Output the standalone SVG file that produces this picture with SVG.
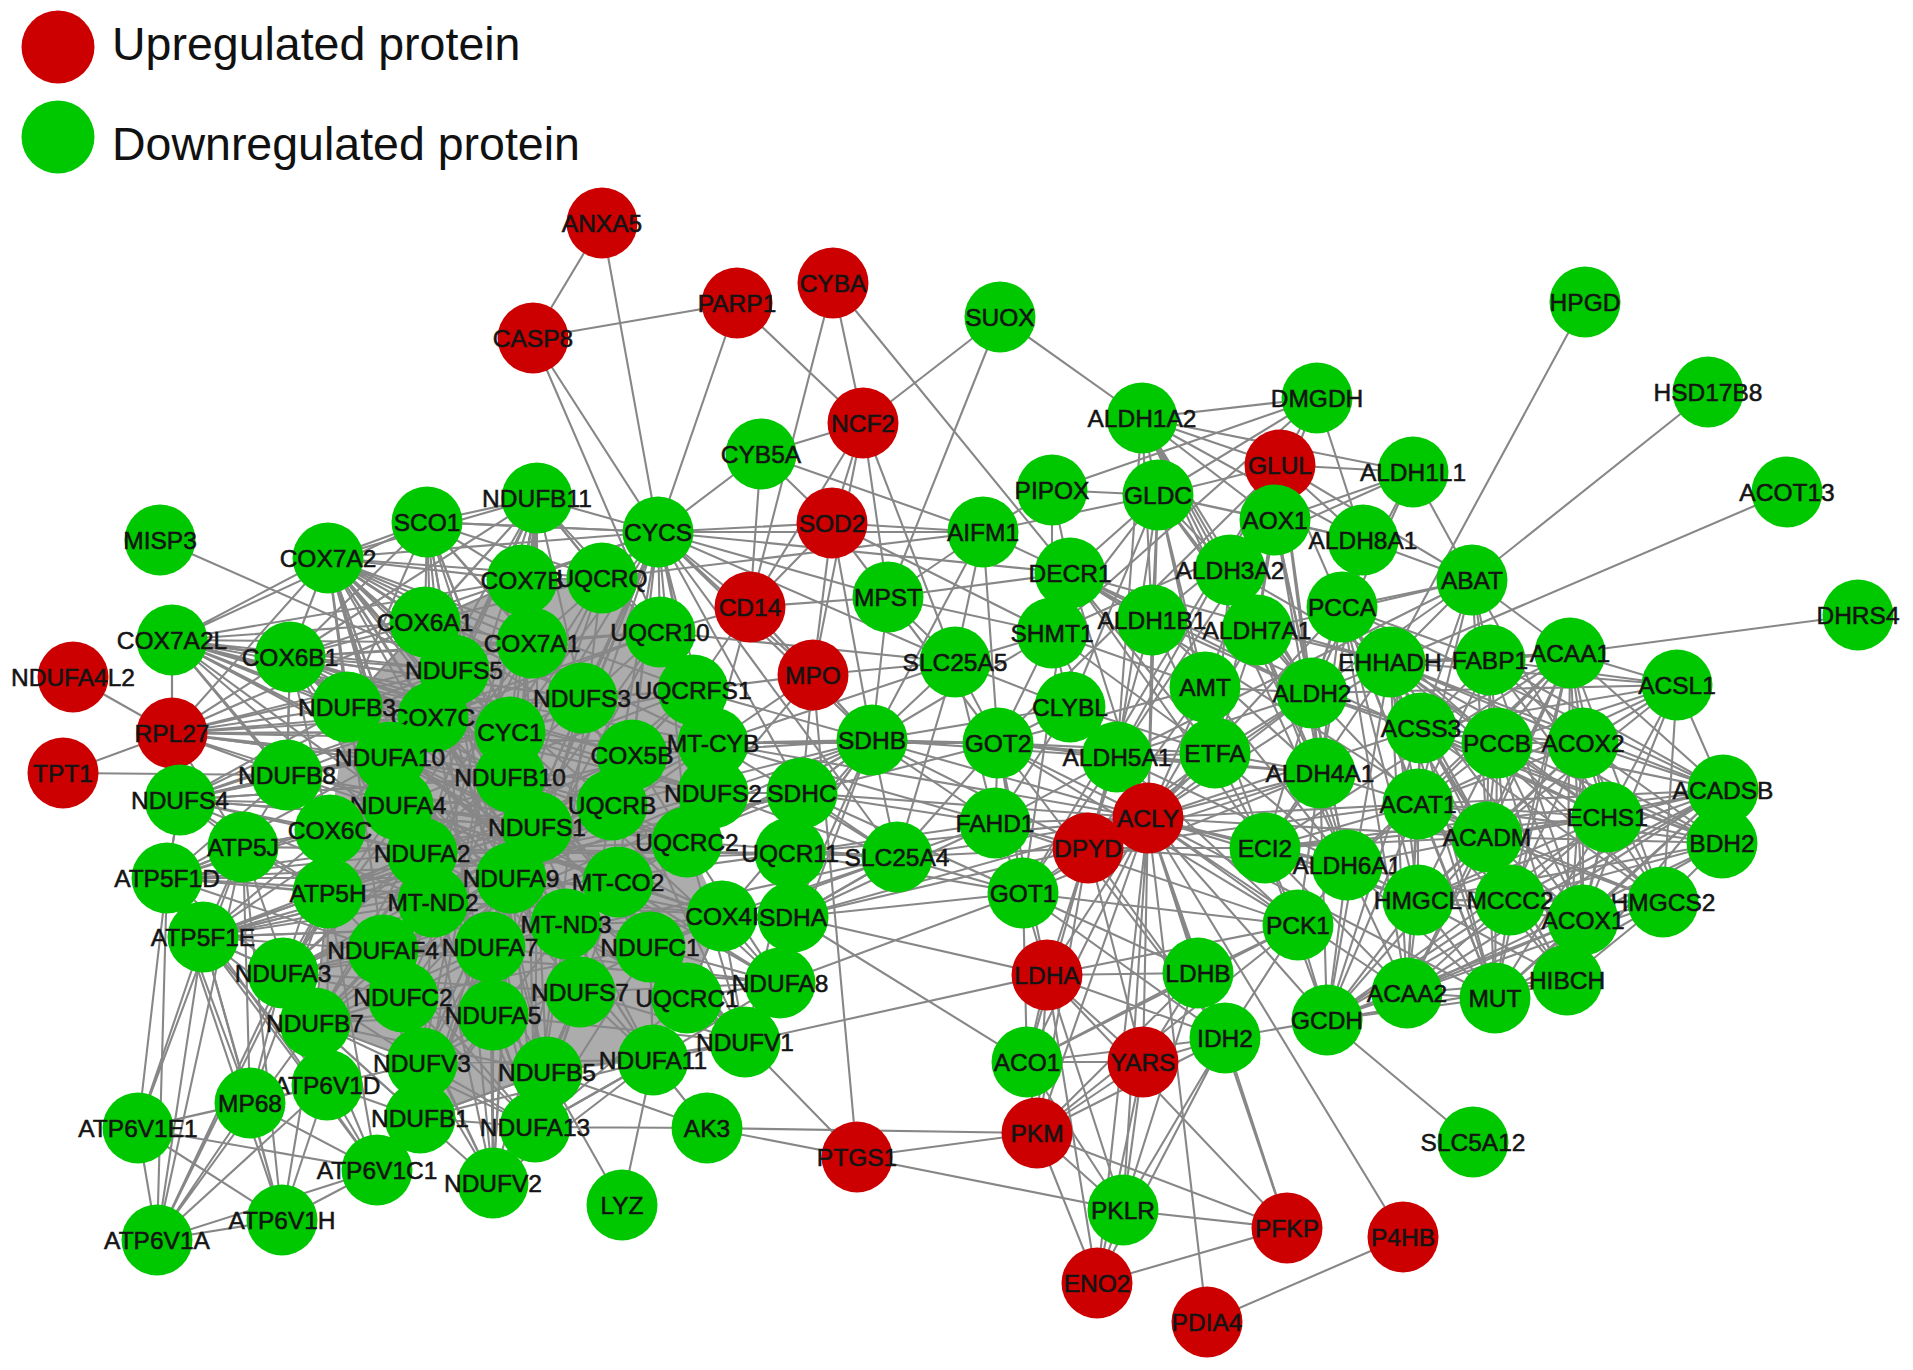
<svg xmlns="http://www.w3.org/2000/svg" width="1913" height="1370" viewBox="0 0 1913 1370">
<style>
.e{fill:none;stroke:#878787;stroke-width:2.1;stroke-linejoin:round}
.mesh{fill:#8c8c8c;fill-opacity:0.72;stroke:none}
.up{fill:#cc0000}
.dn{fill:#00c800}
text{font-family:"Liberation Sans",Arial,sans-serif;font-size:24.5px;fill:#141414;stroke:#141414;stroke-width:0.55;text-anchor:middle;dominant-baseline:central}
text.lg{font-size:46.5px;text-anchor:start;dominant-baseline:auto;fill:#111;stroke:none}
</style>
<rect width="1913" height="1370" fill="#fff"/>
<g id="legend">
<circle class="up" cx="58" cy="47" r="36.5"/>
<text class="lg" x="112" y="60">Upregulated protein</text>
<circle class="dn" cx="58" cy="137" r="36.5"/>
<text class="lg" x="112" y="160">Downregulated protein</text>
</g>
<g id="connectors">
<polygon class="mesh" points="347,707 425,622 522,580 602,578 660,632 693,690 713,743 713,793 687,842 722,916 687,998 653,1060 547,1072 420,1118 422,1063 315,1023 328,893 330,830"/>
<path class="e" d="M328 558L535 1127 427 522 493 1183 537 498 420 1118 658 532 422 1063 522 580 403 997 602 578 315 1023 532 643 283 973 660 632 180 800 693 690 172 733 713 743 172 640 713 793 290 657 687 998 425 622 580 992 454 670 547 1072 347 707 653 1060 433 717 745 1042 582 698 493 1015 510 732 780 983 390 757 722 916 287 775 687 842 510 777 618 882 398 805 511 878 612 805 433 902 632 755 328 893 537 827 422 853 330 830 243 847 790 853 167 878 793 917 203 937 802 793 383 950 872 740 490 947 897 857 650 947"/>
<path class="e" d="M427 522L537 498 658 532 602 578 522 580 532 643 425 622 328 558 290 657 347 707 454 670 433 717 532 643 660 632 693 690 582 698 510 732 510 777 612 805 632 755 713 743 713 793 802 793 872 740 790 853 897 857 793 917 780 983 745 1042 687 998 722 916 650 947 653 1060 580 992 535 1127 493 1183 547 1072 493 1015 422 1063 420 1118 315 1023 283 973 203 937 167 878 180 800 172 733 172 640 290 657 287 775 390 757 398 805 422 853 433 902 328 893 243 847 330 830 287 775 180 800"/>
<path class="e" d="M328 558L425 622 454 670 433 717 390 757 330 830 328 893 383 950 283 973 315 1023 403 997 422 1063 493 1015 490 947 433 902 422 853 398 805 347 707 290 657 287 775 243 847 167 878 203 937 328 893 330 830 398 805 390 757 433 717 510 732 510 777 511 878 490 947 566 924 580 992 547 1072 535 1127 653 1060 650 947 618 882 612 805 632 755 582 698 532 643 522 580 537 498 602 578 660 632 713 743 693 690 632 755 687 842 618 882 722 916 687 998 745 1042 780 983 790 853 802 793 713 793 687 842 612 805 537 827 511 878 566 924 618 882 650 947 687 998"/>
<path class="e" d="M427 522L510 732 493 1015 433 717 580 992 347 707 687 998 290 657 745 1042 328 558 653 1060 425 622 547 1072 522 580 535 1127 602 578 420 1118 658 532 422 1063 660 632 403 997 693 690 315 1023 713 743 283 973 713 793 203 937 802 793 328 893 537 827 398 805 687 842 422 853 790 853 433 902 793 917 383 950 780 983 490 947"/>
<path class="e" d="M172 640L510 732 172 733 510 777 180 800 537 827 167 878 511 878 203 937 566 924 283 973 580 992 315 1023 547 1072 420 1118 653 1060 422 1063 650 947 403 997 618 882 383 950 612 805 433 902 632 755 328 893 713 743 330 830 693 690 287 775 660 632 290 657 658 532 328 558 602 578 425 622 582 698 347 707 713 793 390 757 687 842 398 805 722 916 422 853 687 998"/>
<path class="e" d="M328 558L433 717 328 558 510 732 328 558 582 698 328 558 510 777 328 558 537 827 328 558 398 805 328 558 422 853 328 558 511 878 328 558 612 805 328 558 632 755 328 558 347 707 328 558 390 757 328 558 454 670 328 558 532 643 328 558 522 580 328 558 693 690 328 558 713 743 328 558 433 902 328 558 383 950 328 558 493 1015"/>
<path class="e" d="M172 640L328 558 172 640 425 622 172 640 454 670 172 640 532 643 172 640 433 717 172 640 347 707 172 640 290 657 172 640 390 757 172 640 510 732 172 640 510 777 172 640 398 805 172 640 422 853 172 640 287 775 172 640 172 733 172 640 330 830 172 640 537 827 172 640 632 755 172 640 582 698 172 640 522 580 172 640 427 522"/>
<path class="e" d="M172 733L290 657 172 733 347 707 172 733 433 717 172 733 454 670 172 733 425 622 172 733 328 558 172 733 390 757 172 733 287 775 172 733 398 805 172 733 180 800 172 733 243 847 172 733 510 732 172 733 532 643 172 733 510 777 172 733 522 580"/>
<path class="e" d="M290 657L425 622 290 657 454 670 290 657 433 717 290 657 390 757 290 657 510 732 290 657 510 777 290 657 398 805 290 657 537 827 290 657 511 878 290 657 433 902 290 657 532 643 290 657 582 698 290 657 632 755 290 657 330 830"/>
<path class="e" d="M427 522L425 622 427 522 454 670 427 522 433 717 427 522 522 580 427 522 532 643 427 522 510 732 427 522 582 698 427 522 328 558 427 522 602 578 427 522 658 532 427 522 347 707 427 522 290 657 427 522 510 777"/>
<path class="e" d="M537 498L425 622 537 498 522 580 537 498 532 643 537 498 510 732 537 498 454 670 537 498 433 717 537 498 510 777 537 498 390 757 537 498 347 707 537 498 398 805 537 498 537 827 537 498 602 578 537 498 582 698 537 498 511 878 537 498 660 632 537 498 328 558 537 498 290 657 537 498 422 853"/>
<path class="e" d="M658 532L602 578 658 532 660 632 658 532 693 690 658 532 582 698 658 532 713 743 658 532 632 755 658 532 532 643 658 532 510 732 658 532 612 805 658 532 713 793 658 532 687 842 658 532 618 882 658 532 522 580 658 532 510 777 658 532 537 827 658 532 872 740 658 532 802 793 658 532 897 857 658 532 493 1015 658 532 580 992"/>
<path class="e" d="M180 800L287 775 180 800 330 830 180 800 243 847 180 800 398 805 180 800 390 757 180 800 347 707 180 800 433 717 180 800 422 853 180 800 454 670 180 800 167 878 180 800 328 893 180 800 433 902 180 800 537 827 180 800 510 777 180 800 510 732"/>
<path class="e" d="M167 878L243 847 167 878 328 893 167 878 330 830 167 878 287 775 167 878 203 937 167 878 283 973 167 878 383 950 167 878 433 902 167 878 422 853 167 878 398 805 167 878 390 757"/>
<path class="e" d="M203 937L243 847 203 937 328 893 203 937 330 830 203 937 283 973 203 937 383 950 203 937 315 1023 203 937 433 902 203 937 422 853 203 937 398 805"/>
<path class="e" d="M493 1183L535 1127 493 1183 547 1072 493 1183 493 1015 493 1183 422 1063 493 1183 420 1118 493 1183 403 997 493 1183 383 950 493 1183 490 947 493 1183 566 924 493 1183 580 992 493 1183 653 1060 493 1183 511 878 493 1183 433 902"/>
<path class="e" d="M535 1127L547 1072 535 1127 493 1015 535 1127 422 1063 535 1127 420 1118 535 1127 403 997 535 1127 490 947 535 1127 566 924 535 1127 580 992 535 1127 653 1060 535 1127 687 998 535 1127 650 947 535 1127 618 882 535 1127 511 878 535 1127 433 902 535 1127 537 827 535 1127 383 950 535 1127 315 1023"/>
<path class="e" d="M745 1042L653 1060 745 1042 687 998 745 1042 650 947 745 1042 580 992 745 1042 722 916 745 1042 793 917 745 1042 780 983 745 1042 618 882 745 1042 566 924 745 1042 687 842 745 1042 790 853 745 1042 547 1072 745 1042 493 1015"/>
<path class="e" d="M872 740L802 793 872 740 790 853 872 740 897 857 872 740 793 917 872 740 713 743 872 740 713 793 872 740 693 690 872 740 687 842 872 740 722 916 872 740 780 983 872 740 632 755 872 740 612 805"/>
<path class="e" d="M780 983L722 916 780 983 793 917 780 983 687 998 780 983 650 947 780 983 790 853 780 983 687 842 780 983 618 882 780 983 653 1060 780 983 580 992"/>
<path class="e" d="M897 857L802 793 897 857 790 853 897 857 793 917 897 857 722 916 897 857 713 793 897 857 713 743 897 857 687 842"/>
<path class="e" d="M283 973L328 893 283 973 383 950 283 973 433 902 283 973 403 997 283 973 422 853 283 973 330 830 283 973 398 805 283 973 315 1023 283 973 422 1063 283 973 490 947"/>
<path class="e" d="M315 1023L383 950 315 1023 403 997 315 1023 422 1063 315 1023 420 1118 315 1023 433 902 315 1023 490 947 315 1023 328 893 315 1023 422 853 315 1023 493 1015"/>
<path class="e" d="M420 1118L422 1063 420 1118 403 997 420 1118 493 1015 420 1118 547 1072 420 1118 383 950 420 1118 490 947 420 1118 433 902 420 1118 511 878 420 1118 566 924"/>
<path class="e" d="M157 1240L203 937 157 1240 167 878 157 1240 250 1103 157 1240 327 1085 157 1240 282 1220 157 1240 377 1170 157 1240 138 1128 157 1240 243 847 157 1240 283 973 157 1240 315 1023 157 1240 328 893"/>
<path class="e" d="M138 1128L167 878 138 1128 203 937 138 1128 250 1103 138 1128 377 1170 138 1128 282 1220 138 1128 327 1085 138 1128 243 847"/>
<path class="e" d="M282 1220L250 1103 282 1220 327 1085 282 1220 377 1170 282 1220 203 937 282 1220 167 878 282 1220 315 1023 282 1220 243 847"/>
<path class="e" d="M250 1103L377 1170 250 1103 327 1085 250 1103 203 937 250 1103 243 847 250 1103 328 893 250 1103 283 973 250 1103 167 878"/>
<path class="e" d="M377 1170L327 1085 377 1170 203 937 377 1170 167 878 377 1170 420 1118 377 1170 422 1063 377 1170 328 893 377 1170 315 1023"/>
<path class="e" d="M327 1085L203 937 327 1085 328 893 327 1085 315 1023 327 1085 422 1063 327 1085 420 1118 327 1085 283 973 327 1085 243 847"/>
<path class="e" d="M160 540L454 670 M73 677L172 733 M63 773L172 733 M63 773L287 775 M427 522L658 532"/>
<path class="e" d="M602 223L533 338 737 303 M602 223L658 532 M533 338L658 532 M533 338L660 632 M737 303L658 532 M737 303L863 423 M833 283L863 423 M833 283L750 607 M833 283L1070 573"/>
<path class="e" d="M863 423L761 454 863 423 1000 317 863 423 832 523 863 423 750 607 863 423 813 675 863 423 888 597 863 423 955 662 M1000 317L1142 418 1000 317 888 597"/>
<path class="e" d="M761 454L658 532 761 454 832 523 761 454 750 607 761 454 983 532"/>
<path class="e" d="M658 532L983 532 658 532 832 523 658 532 888 597 658 532 955 662 658 532 750 607 658 532 813 675 658 532 1070 573"/>
<path class="e" d="M832 523L750 607 832 523 813 675 832 523 888 597 832 523 983 532 832 523 872 740 832 523 1052 633"/>
<path class="e" d="M750 607L813 675 750 607 888 597 750 607 660 632 750 607 713 743 750 607 872 740 750 607 693 690"/>
<path class="e" d="M813 675L872 740 813 675 955 662 813 675 802 793 813 675 713 793 813 675 693 690 813 675 713 743"/>
<path class="e" d="M888 597L955 662 888 597 1070 573 888 597 1052 633 888 597 998 743 888 597 872 740 888 597 983 532"/>
<path class="e" d="M983 532L955 662 983 532 1158 495 983 532 872 740 983 532 602 578 983 532 1052 490"/>
<path class="e" d="M955 662L897 857 955 662 872 740 955 662 995 823 955 662 1052 633 955 662 1070 707 955 662 660 632 955 662 713 743"/>
<path class="e" d="M872 740L1070 707 872 740 1052 633 872 740 1117 757 M793 917L1047 975 M745 1042L1047 975 M793 917L1027 1062 M780 983L1023 893"/>
<path class="e" d="M857 1157L1037 1133 M857 1157L1123 1210 M857 1157L707 1128 M857 1157L745 1042 M857 1157L813 675 M707 1128L1037 1133 M707 1128L653 1060 M707 1128L535 1127 M707 1128L547 1072 M622 1205L653 1060 M622 1205L547 1072"/>
<path class="e" d="M1585 302L1390 662 M1787 492L1390 662"/>
<path class="e" d="M1148 818L998 743 1148 818 995 823 1148 818 1023 893 1148 818 1088 848 1148 818 1047 975 1148 818 1198 973 1148 818 1225 1038 1148 818 1143 1062 1148 818 1037 1133 1148 818 1123 1210 1148 818 1027 1062 1148 818 1265 848 1148 818 1312 693 1148 818 1205 687 1148 818 1215 753 1148 818 1117 757 1148 818 1152 620 1148 818 1070 707 1148 818 1052 633 1148 818 1070 573 1148 818 1418 804 1148 818 1421 728 1148 818 1342 607 1148 818 1327 1020 1148 818 1407 993 1148 818 1418 900 1148 818 1320 773 1148 818 1347 865 1148 818 1298 925 1148 818 872 740 1148 818 793 917 1148 818 802 793 1148 818 897 857 1148 818 790 853 1148 818 713 743 1148 818 1257 630 1148 818 1158 495 1148 818 1390 662 1148 818 1487 837 1148 818 1495 998 1148 818 1097 1283 1148 818 1287 1228"/>
<path class="e" d="M1088 848L1117 757 1088 848 1347 865 1088 848 1023 893 1088 848 995 823 1088 848 1047 975 1088 848 1027 1062 1088 848 1037 1133 1088 848 1312 693 1088 848 1320 773 1088 848 1215 753 1088 848 1205 687 1088 848 1418 804 1088 848 1265 848 1088 848 1152 620 1088 848 1225 1038 1088 848 1143 1062 1088 848 872 740 1088 848 897 857 1088 848 793 917"/>
<path class="e" d="M1312 693L1158 495 1312 693 1142 418 1312 693 1230 570 1312 693 1257 630 1312 693 1152 620 1312 693 1275 520 1312 693 1363 540 1312 693 1413 472 1312 693 1320 773 1312 693 1347 865 1312 693 1117 757 1312 693 1390 662 1312 693 1418 804 1312 693 1342 607 1312 693 1472 580 1312 693 1421 728 1312 693 1070 573 1312 693 1280 465 1312 693 1265 848 1312 693 1215 753 1312 693 1205 687"/>
<path class="e" d="M1390 662L1570 653 1390 662 1677 685 1390 662 1583 743 1390 662 1607 817 1390 662 1487 837 1390 662 1407 993 1390 662 1418 804 1390 662 1418 900 1390 662 1510 900 1390 662 1497 743 1390 662 1490 660 1390 662 1583 920 1390 662 1567 980 1390 662 1495 998 1390 662 1723 790 1390 662 1722 843 1390 662 1663 902 1390 662 1230 570 1390 662 1070 573 1390 662 1265 848 1390 662 1327 1020 1390 662 1257 630 1390 662 1472 580"/>
<path class="e" d="M1723 790L1570 653 1723 790 1583 743 1723 790 1607 817 1723 790 1497 743 1723 790 1487 837 1723 790 1490 660 1723 790 1418 804 1723 790 1421 728 1723 790 1418 900 1723 790 1510 900 1723 790 1583 920 1723 790 1567 980 1723 790 1495 998 1723 790 1407 993 1723 790 1327 1020 1723 790 1265 848 1723 790 1347 865 1723 790 1342 607 1723 790 1677 685"/>
<path class="e" d="M1722 843L1607 817 1722 843 1487 837 1722 843 1663 902 1722 843 1583 920 1722 843 1418 804 1722 843 1510 900 1722 843 1418 900 1722 843 1421 728 1722 843 1407 993 1722 843 1312 693 1722 843 1497 743 1722 843 1583 743"/>
<path class="e" d="M1677 685L1570 653 1677 685 1490 660 1677 685 1583 743 1677 685 1607 817 1677 685 1497 743 1677 685 1421 728 1677 685 1487 837 1677 685 1583 920 1677 685 1312 693 1677 685 1663 902 1677 685 1418 804"/>
<path class="e" d="M1570 653L1490 660 1570 653 1583 743 1570 653 1497 743 1570 653 1607 817 1570 653 1487 837 1570 653 1418 804 1570 653 1510 900 1570 653 1663 902 1570 653 1583 920 1570 653 1567 980 1570 653 1495 998 1570 653 1407 993 1570 653 1472 580 1570 653 1858 615 1570 653 1421 728 1570 653 1265 848 1570 653 1347 865"/>
<path class="e" d="M1418 804L1342 607 1418 804 1497 743 1418 804 1421 728 1418 804 1487 837 1418 804 1418 900 1418 804 1510 900 1418 804 1583 920 1418 804 1407 993 1418 804 1495 998 1418 804 1567 980 1418 804 1327 1020 1418 804 1607 817 1418 804 1583 743 1418 804 1663 902 1418 804 1347 865 1418 804 1265 848 1418 804 1320 773 1418 804 1472 580 1418 804 1490 660"/>
<path class="e" d="M1327 1020L1407 993 1327 1020 1495 998 1327 1020 1567 980 1327 1020 1510 900 1327 1020 1487 837 1327 1020 1418 900 1327 1020 1607 817 1327 1020 1583 920 1327 1020 1347 865 1327 1020 1265 848 1327 1020 1298 925 1327 1020 1473 1142 1327 1020 1225 1038 1327 1020 1320 773 1327 1020 1421 728"/>
<path class="e" d="M1342 607L1497 743 1342 607 1510 900 1342 607 1363 540 1342 607 1413 472 1342 607 1472 580 1342 607 1421 728 1342 607 1407 993 1342 607 1495 998 1342 607 1418 900 1342 607 1487 837 1342 607 1490 660"/>
<path class="e" d="M1472 580L1413 472 1472 580 1708 392 1472 580 1363 540 1472 580 1280 465 1472 580 1421 728 1472 580 1490 660 1472 580 1497 743 1472 580 1607 817 1472 580 1487 837 1472 580 1117 757 1472 580 1257 630"/>
<path class="e" d="M1158 495L1052 490 1158 495 1142 418 1158 495 1275 520 1158 495 1205 687 1158 495 1052 633 1158 495 1070 573 1158 495 1152 620 1158 495 1257 630 1158 495 1230 570 1158 495 1280 465 1158 495 1363 540 1158 495 1215 753 1158 495 1070 707 1158 495 1117 757 1158 495 1317 398"/>
<path class="e" d="M1142 418L1280 465 1142 418 1317 398 1142 418 1275 520 1142 418 1230 570 1142 418 1257 630 1142 418 1363 540 1142 418 1152 620 1142 418 1413 472 1142 418 1117 757 1142 418 1320 773 1142 418 1347 865"/>
<path class="e" d="M1275 520L1230 570 1275 520 1257 630 1275 520 1152 620 1275 520 1363 540 1275 520 1413 472 1275 520 1280 465 1275 520 1320 773 1275 520 1347 865 1275 520 1117 757"/>
<path class="e" d="M1317 398L1280 465 1317 398 1052 490 1317 398 1052 633 1317 398 1205 687 1317 398 1363 540"/>
<path class="e" d="M1280 465L1413 472 1280 465 1230 570 1280 465 1363 540 1280 465 1257 630 1280 465 1320 773 1280 465 1215 753 1280 465 1117 757 1280 465 1023 893 1280 465 998 743 1280 465 1342 607"/>
<path class="e" d="M1052 633L1205 687 1052 633 1413 472 1052 633 1070 707 1052 633 1052 490 1052 633 1070 573 1052 633 998 743 1052 633 1215 753"/>
<path class="e" d="M1070 573L1265 848 1070 573 983 532 1070 573 1052 490 1070 573 1215 753 1070 573 1152 620 1070 573 1487 837 1070 573 1023 893 1070 573 1607 817"/>
<path class="e" d="M1265 848L1215 753 1265 848 1205 687 1265 848 1320 773 1265 848 1347 865 1265 848 1298 925 1265 848 1607 817 1265 848 1487 837 1265 848 1418 900 1265 848 1407 993 1265 848 1510 900"/>
<path class="e" d="M1510 900L1497 743 1510 900 1418 900 1510 900 1487 837 1510 900 1583 920 1510 900 1567 980 1510 900 1495 998 1510 900 1407 993 1510 900 1607 817 1510 900 1583 743 1510 900 1663 902"/>
<path class="e" d="M1663 902L1583 920 1663 902 1418 900 1663 902 1487 837 1663 902 1607 817 1663 902 1407 993 1663 902 1495 998 1663 902 1567 980 1663 902 1583 743 1663 902 1497 743 1663 902 1421 728"/>
<path class="e" d="M1583 920L1607 817 1583 920 1583 743 1583 920 1487 837 1583 920 1497 743 1583 920 1567 980 1583 920 1495 998 1583 920 1407 993 1583 920 1418 900 1583 920 1490 660"/>
<path class="e" d="M1497 743L1583 743 1497 743 1490 660 1497 743 1487 837 1497 743 1607 817 1497 743 1567 980 1497 743 1495 998 1497 743 1421 728 1497 743 1418 900"/>
<path class="e" d="M1583 743L1607 817 1583 743 1487 837 1583 743 1490 660 1583 743 1567 980 1583 743 1421 728 1583 743 1418 900"/>
<path class="e" d="M1320 773L1117 757 1320 773 1347 865 1320 773 1257 630 1320 773 1152 620 1320 773 1230 570 1320 773 1363 540 1320 773 1215 753 1320 773 1298 925 1320 773 1023 893 1320 773 998 743 1320 773 1342 607"/>
<path class="e" d="M1347 865L1418 900 1347 865 1407 993 1347 865 1215 753 1347 865 1205 687 1347 865 1298 925 1347 865 1117 757 1347 865 1257 630 1347 865 1495 998"/>
<path class="e" d="M1215 753L1205 687 1215 753 1117 757 1215 753 1152 620 1215 753 1257 630 1215 753 1230 570 1215 753 1070 707 1215 753 998 743"/>
<path class="e" d="M1298 925L1023 893 1298 925 998 743 1298 925 1047 975 1298 925 1198 973 1298 925 1225 1038 1298 925 1027 1062 1298 925 1037 1133 1298 925 995 823 1298 925 1117 757"/>
<path class="e" d="M998 743L1023 893 998 743 995 823 998 743 1070 707 998 743 955 662 998 743 983 532 998 743 897 857 998 743 1117 757 998 743 1205 687 998 743 713 743 998 743 802 793 998 743 1047 975 998 743 1225 1038 998 743 872 740"/>
<path class="e" d="M1023 893L995 823 1023 893 1047 975 1023 893 1198 973 1023 893 1225 1038 1023 893 1027 1062 1023 893 1117 757 1023 893 897 857 1023 893 790 853 1023 893 793 917 1023 893 802 793"/>
<path class="e" d="M995 823L897 857 995 823 1117 757 995 823 1070 707 995 823 790 853 995 823 713 743 995 823 793 917 995 823 872 740 995 823 802 793"/>
<path class="e" d="M1418 900L1487 837 1418 900 1407 993 1418 900 1495 998 1418 900 1567 980 1418 900 1607 817 M1487 837L1607 817 1487 837 1567 980 1487 837 1495 998 1487 837 1407 993 1487 837 1490 660 1487 837 1421 728 M1421 728L1490 660 1421 728 1607 817 1421 728 1407 993 1421 728 1495 998"/>
<path class="e" d="M1607 817L1567 980 1607 817 1495 998 1607 817 1490 660 M1495 998L1567 980 M1407 993L1495 998 1407 993 1567 980"/>
<path class="e" d="M1047 975L1198 973 1047 975 1027 1062 1047 975 1037 1133 1047 975 1143 1062 1047 975 1123 1210 1047 975 1225 1038 1047 975 1097 1283 1047 975 1287 1228 M1198 973L1225 1038 1198 973 1143 1062 1198 973 1123 1210 1198 973 1027 1062 1198 973 1037 1133"/>
<path class="e" d="M1027 1062L1143 1062 1027 1062 1225 1038 1027 1062 1037 1133 1027 1062 1123 1210 M1143 1062L1037 1133 1143 1062 1123 1210 1143 1062 1225 1038 1143 1062 1097 1283 M1225 1038L1123 1210 1225 1038 1287 1228 1225 1038 1037 1133 1225 1038 1097 1283"/>
<path class="e" d="M1037 1133L1123 1210 1037 1133 1287 1228 1037 1133 1097 1283 M1123 1210L1287 1228 1123 1210 1097 1283 M1287 1228L1097 1283 M1207 1322L1403 1237 1148 818 1207 1322"/>
</g>
<g id="n-MISP3"><circle class="dn" cx="160" cy="540" r="35.5"/><text x="160" y="540">MISP3</text></g>
<g id="n-SCO1"><circle class="dn" cx="427" cy="522" r="35.5"/><text x="427" y="522">SCO1</text></g>
<g id="n-NDUFB11"><circle class="dn" cx="537" cy="498" r="35.5"/><text x="537" y="498">NDUFB11</text></g>
<g id="n-COX7A2"><circle class="dn" cx="328" cy="558" r="35.5"/><text x="328" y="558">COX7A2</text></g>
<g id="n-COX7A2L"><circle class="dn" cx="172" cy="640" r="35.5"/><text x="172" y="640">COX7A2L</text></g>
<g id="n-COX6A1"><circle class="dn" cx="425" cy="622" r="35.5"/><text x="425" y="622">COX6A1</text></g>
<g id="n-COX7B"><circle class="dn" cx="522" cy="580" r="35.5"/><text x="522" y="580">COX7B</text></g>
<g id="n-UQCRQ"><circle class="dn" cx="602" cy="578" r="35.5"/><text x="602" y="578">UQCRQ</text></g>
<g id="n-CYCS"><circle class="dn" cx="658" cy="532" r="35.5"/><text x="658" y="532">CYCS</text></g>
<g id="n-NDUFA4L2"><circle class="up" cx="73" cy="677" r="35.5"/><text x="73" y="677">NDUFA4L2</text></g>
<g id="n-COX6B1"><circle class="dn" cx="290" cy="657" r="35.5"/><text x="290" y="657">COX6B1</text></g>
<g id="n-NDUFS5"><circle class="dn" cx="454" cy="670" r="35.5"/><text x="454" y="670">NDUFS5</text></g>
<g id="n-COX7A1"><circle class="dn" cx="532" cy="643" r="35.5"/><text x="532" y="643">COX7A1</text></g>
<g id="n-UQCR10"><circle class="dn" cx="660" cy="632" r="35.5"/><text x="660" y="632">UQCR10</text></g>
<g id="n-RPL27"><circle class="up" cx="172" cy="733" r="35.5"/><text x="172" y="733">RPL27</text></g>
<g id="n-NDUFB3"><circle class="dn" cx="347" cy="707" r="35.5"/><text x="347" y="707">NDUFB3</text></g>
<g id="n-COX7C"><circle class="dn" cx="433" cy="717" r="35.5"/><text x="433" y="717">COX7C</text></g>
<g id="n-NDUFS3"><circle class="dn" cx="582" cy="698" r="35.5"/><text x="582" y="698">NDUFS3</text></g>
<g id="n-UQCRFS1"><circle class="dn" cx="693" cy="690" r="35.5"/><text x="693" y="690">UQCRFS1</text></g>
<g id="n-TPT1"><circle class="up" cx="63" cy="773" r="35.5"/><text x="63" y="773">TPT1</text></g>
<g id="n-NDUFA10"><circle class="dn" cx="390" cy="757" r="35.5"/><text x="390" y="757">NDUFA10</text></g>
<g id="n-CYC1"><circle class="dn" cx="510" cy="732" r="35.5"/><text x="510" y="732">CYC1</text></g>
<g id="n-MT-CYB"><circle class="dn" cx="713" cy="743" r="35.5"/><text x="713" y="743">MT-CYB</text></g>
<g id="n-NDUFB8"><circle class="dn" cx="287" cy="775" r="35.5"/><text x="287" y="775">NDUFB8</text></g>
<g id="n-NDUFB10"><circle class="dn" cx="510" cy="777" r="35.5"/><text x="510" y="777">NDUFB10</text></g>
<g id="n-COX5B"><circle class="dn" cx="632" cy="755" r="35.5"/><text x="632" y="755">COX5B</text></g>
<g id="n-NDUFS4"><circle class="dn" cx="180" cy="800" r="35.5"/><text x="180" y="800">NDUFS4</text></g>
<g id="n-NDUFA4"><circle class="dn" cx="398" cy="805" r="35.5"/><text x="398" y="805">NDUFA4</text></g>
<g id="n-UQCRB"><circle class="dn" cx="612" cy="805" r="35.5"/><text x="612" y="805">UQCRB</text></g>
<g id="n-NDUFS2"><circle class="dn" cx="713" cy="793" r="35.5"/><text x="713" y="793">NDUFS2</text></g>
<g id="n-SDHB"><circle class="dn" cx="872" cy="740" r="35.5"/><text x="872" y="740">SDHB</text></g>
<g id="n-SDHC"><circle class="dn" cx="802" cy="793" r="35.5"/><text x="802" y="793">SDHC</text></g>
<g id="n-COX6C"><circle class="dn" cx="330" cy="830" r="35.5"/><text x="330" y="830">COX6C</text></g>
<g id="n-ATP5J"><circle class="dn" cx="243" cy="847" r="35.5"/><text x="243" y="847">ATP5J</text></g>
<g id="n-NDUFA2"><circle class="dn" cx="422" cy="853" r="35.5"/><text x="422" y="853">NDUFA2</text></g>
<g id="n-NDUFS1"><circle class="dn" cx="537" cy="827" r="35.5"/><text x="537" y="827">NDUFS1</text></g>
<g id="n-UQCRC2"><circle class="dn" cx="687" cy="842" r="35.5"/><text x="687" y="842">UQCRC2</text></g>
<g id="n-UQCR11"><circle class="dn" cx="790" cy="853" r="35.5"/><text x="790" y="853">UQCR11</text></g>
<g id="n-ATP5F1D"><circle class="dn" cx="167" cy="878" r="35.5"/><text x="167" y="878">ATP5F1D</text></g>
<g id="n-ATP5H"><circle class="dn" cx="328" cy="893" r="35.5"/><text x="328" y="893">ATP5H</text></g>
<g id="n-MT-ND2"><circle class="dn" cx="433" cy="902" r="35.5"/><text x="433" y="902">MT-ND2</text></g>
<g id="n-NDUFA9"><circle class="dn" cx="511" cy="878" r="35.5"/><text x="511" y="878">NDUFA9</text></g>
<g id="n-MT-CO2"><circle class="dn" cx="618" cy="882" r="35.5"/><text x="618" y="882">MT-CO2</text></g>
<g id="n-SLC25A4"><circle class="dn" cx="897" cy="857" r="35.5"/><text x="897" y="857">SLC25A4</text></g>
<g id="n-MT-ND3"><circle class="dn" cx="566" cy="924" r="35.5"/><text x="566" y="924">MT-ND3</text></g>
<g id="n-COX4I"><circle class="dn" cx="722" cy="916" r="35.5"/><text x="722" y="916">COX4I</text></g>
<g id="n-SDHA"><circle class="dn" cx="793" cy="917" r="35.5"/><text x="793" y="917">SDHA</text></g>
<g id="n-ATP5F1E"><circle class="dn" cx="203" cy="937" r="35.5"/><text x="203" y="937">ATP5F1E</text></g>
<g id="n-NDUFAF4"><circle class="dn" cx="383" cy="950" r="35.5"/><text x="383" y="950">NDUFAF4</text></g>
<g id="n-NDUFA7"><circle class="dn" cx="490" cy="947" r="35.5"/><text x="490" y="947">NDUFA7</text></g>
<g id="n-NDUFC1"><circle class="dn" cx="650" cy="947" r="35.5"/><text x="650" y="947">NDUFC1</text></g>
<g id="n-NDUFA3"><circle class="dn" cx="283" cy="973" r="35.5"/><text x="283" y="973">NDUFA3</text></g>
<g id="n-NDUFC2"><circle class="dn" cx="403" cy="997" r="35.5"/><text x="403" y="997">NDUFC2</text></g>
<g id="n-NDUFS7"><circle class="dn" cx="580" cy="992" r="35.5"/><text x="580" y="992">NDUFS7</text></g>
<g id="n-UQCRC1"><circle class="dn" cx="687" cy="998" r="35.5"/><text x="687" y="998">UQCRC1</text></g>
<g id="n-NDUFA8"><circle class="dn" cx="780" cy="983" r="35.5"/><text x="780" y="983">NDUFA8</text></g>
<g id="n-NDUFB7"><circle class="dn" cx="315" cy="1023" r="35.5"/><text x="315" y="1023">NDUFB7</text></g>
<g id="n-NDUFA5"><circle class="dn" cx="493" cy="1015" r="35.5"/><text x="493" y="1015">NDUFA5</text></g>
<g id="n-NDUFV1"><circle class="dn" cx="745" cy="1042" r="35.5"/><text x="745" y="1042">NDUFV1</text></g>
<g id="n-NDUFV3"><circle class="dn" cx="422" cy="1063" r="35.5"/><text x="422" y="1063">NDUFV3</text></g>
<g id="n-NDUFA11"><circle class="dn" cx="653" cy="1060" r="35.5"/><text x="653" y="1060">NDUFA11</text></g>
<g id="n-NDUFB5"><circle class="dn" cx="547" cy="1072" r="35.5"/><text x="547" y="1072">NDUFB5</text></g>
<g id="n-ATP6V1D"><circle class="dn" cx="327" cy="1085" r="35.5"/><text x="327" y="1085">ATP6V1D</text></g>
<g id="n-MP68"><circle class="dn" cx="250" cy="1103" r="35.5"/><text x="250" y="1103">MP68</text></g>
<g id="n-NDUFB1"><circle class="dn" cx="420" cy="1118" r="35.5"/><text x="420" y="1118">NDUFB1</text></g>
<g id="n-NDUFA13"><circle class="dn" cx="535" cy="1127" r="35.5"/><text x="535" y="1127">NDUFA13</text></g>
<g id="n-AK3"><circle class="dn" cx="707" cy="1128" r="35.5"/><text x="707" y="1128">AK3</text></g>
<g id="n-ATP6V1E1"><circle class="dn" cx="138" cy="1128" r="35.5"/><text x="138" y="1128">ATP6V1E1</text></g>
<g id="n-ATP6V1C1"><circle class="dn" cx="377" cy="1170" r="35.5"/><text x="377" y="1170">ATP6V1C1</text></g>
<g id="n-NDUFV2"><circle class="dn" cx="493" cy="1183" r="35.5"/><text x="493" y="1183">NDUFV2</text></g>
<g id="n-LYZ"><circle class="dn" cx="622" cy="1205" r="35.5"/><text x="622" y="1205">LYZ</text></g>
<g id="n-ATP6V1H"><circle class="dn" cx="282" cy="1220" r="35.5"/><text x="282" y="1220">ATP6V1H</text></g>
<g id="n-ATP6V1A"><circle class="dn" cx="157" cy="1240" r="35.5"/><text x="157" y="1240">ATP6V1A</text></g>
<g id="n-ANXA5"><circle class="up" cx="602" cy="223" r="35.5"/><text x="602" y="223">ANXA5</text></g>
<g id="n-PARP1"><circle class="up" cx="737" cy="303" r="35.5"/><text x="737" y="303">PARP1</text></g>
<g id="n-CYBA"><circle class="up" cx="833" cy="283" r="35.5"/><text x="833" y="283">CYBA</text></g>
<g id="n-CASP8"><circle class="up" cx="533" cy="338" r="35.5"/><text x="533" y="338">CASP8</text></g>
<g id="n-NCF2"><circle class="up" cx="863" cy="423" r="35.5"/><text x="863" y="423">NCF2</text></g>
<g id="n-CYB5A"><circle class="dn" cx="761" cy="454" r="35.5"/><text x="761" y="454">CYB5A</text></g>
<g id="n-SUOX"><circle class="dn" cx="1000" cy="317" r="35.5"/><text x="1000" y="317">SUOX</text></g>
<g id="n-SOD2"><circle class="up" cx="832" cy="523" r="35.5"/><text x="832" y="523">SOD2</text></g>
<g id="n-CD14"><circle class="up" cx="750" cy="607" r="35.5"/><text x="750" y="607">CD14</text></g>
<g id="n-MPO"><circle class="up" cx="813" cy="675" r="35.5"/><text x="813" y="675">MPO</text></g>
<g id="n-MPST"><circle class="dn" cx="888" cy="597" r="35.5"/><text x="888" y="597">MPST</text></g>
<g id="n-AIFM1"><circle class="dn" cx="983" cy="532" r="35.5"/><text x="983" y="532">AIFM1</text></g>
<g id="n-SLC25A5"><circle class="dn" cx="955" cy="662" r="35.5"/><text x="955" y="662">SLC25A5</text></g>
<g id="n-PTGS1"><circle class="up" cx="857" cy="1157" r="35.5"/><text x="857" y="1157">PTGS1</text></g>
<g id="n-HPGD"><circle class="dn" cx="1585" cy="302" r="35.5"/><text x="1585" y="302">HPGD</text></g>
<g id="n-HSD17B8"><circle class="dn" cx="1708" cy="392" r="35.5"/><text x="1708" y="392">HSD17B8</text></g>
<g id="n-ALDH1A2"><circle class="dn" cx="1142" cy="418" r="35.5"/><text x="1142" y="418">ALDH1A2</text></g>
<g id="n-DMGDH"><circle class="dn" cx="1317" cy="398" r="35.5"/><text x="1317" y="398">DMGDH</text></g>
<g id="n-GLUL"><circle class="up" cx="1280" cy="465" r="35.5"/><text x="1280" y="465">GLUL</text></g>
<g id="n-ALDH1L1"><circle class="dn" cx="1413" cy="472" r="35.5"/><text x="1413" y="472">ALDH1L1</text></g>
<g id="n-ACOT13"><circle class="dn" cx="1787" cy="492" r="35.5"/><text x="1787" y="492">ACOT13</text></g>
<g id="n-PIPOX"><circle class="dn" cx="1052" cy="490" r="35.5"/><text x="1052" y="490">PIPOX</text></g>
<g id="n-GLDC"><circle class="dn" cx="1158" cy="495" r="35.5"/><text x="1158" y="495">GLDC</text></g>
<g id="n-AOX1"><circle class="dn" cx="1275" cy="520" r="35.5"/><text x="1275" y="520">AOX1</text></g>
<g id="n-ALDH8A1"><circle class="dn" cx="1363" cy="540" r="35.5"/><text x="1363" y="540">ALDH8A1</text></g>
<g id="n-DECR1"><circle class="dn" cx="1070" cy="573" r="35.5"/><text x="1070" y="573">DECR1</text></g>
<g id="n-ALDH3A2"><circle class="dn" cx="1230" cy="570" r="35.5"/><text x="1230" y="570">ALDH3A2</text></g>
<g id="n-ABAT"><circle class="dn" cx="1472" cy="580" r="35.5"/><text x="1472" y="580">ABAT</text></g>
<g id="n-PCCA"><circle class="dn" cx="1342" cy="607" r="35.5"/><text x="1342" y="607">PCCA</text></g>
<g id="n-ALDH1B1"><circle class="dn" cx="1152" cy="620" r="35.5"/><text x="1152" y="620">ALDH1B1</text></g>
<g id="n-ALDH7A1"><circle class="dn" cx="1257" cy="630" r="35.5"/><text x="1257" y="630">ALDH7A1</text></g>
<g id="n-SHMT1"><circle class="dn" cx="1052" cy="633" r="35.5"/><text x="1052" y="633">SHMT1</text></g>
<g id="n-DHRS4"><circle class="dn" cx="1858" cy="615" r="35.5"/><text x="1858" y="615">DHRS4</text></g>
<g id="n-EHHADH"><circle class="dn" cx="1390" cy="662" r="35.5"/><text x="1390" y="662">EHHADH</text></g>
<g id="n-FABP1"><circle class="dn" cx="1490" cy="660" r="35.5"/><text x="1490" y="660">FABP1</text></g>
<g id="n-ACAA1"><circle class="dn" cx="1570" cy="653" r="35.5"/><text x="1570" y="653">ACAA1</text></g>
<g id="n-ACSL1"><circle class="dn" cx="1677" cy="685" r="35.5"/><text x="1677" y="685">ACSL1</text></g>
<g id="n-AMT"><circle class="dn" cx="1205" cy="687" r="35.5"/><text x="1205" y="687">AMT</text></g>
<g id="n-ALDH2"><circle class="dn" cx="1312" cy="693" r="35.5"/><text x="1312" y="693">ALDH2</text></g>
<g id="n-CLYBL"><circle class="dn" cx="1070" cy="707" r="35.5"/><text x="1070" y="707">CLYBL</text></g>
<g id="n-ACSS3"><circle class="dn" cx="1421" cy="728" r="35.5"/><text x="1421" y="728">ACSS3</text></g>
<g id="n-PCCB"><circle class="dn" cx="1497" cy="743" r="35.5"/><text x="1497" y="743">PCCB</text></g>
<g id="n-ACOX2"><circle class="dn" cx="1583" cy="743" r="35.5"/><text x="1583" y="743">ACOX2</text></g>
<g id="n-GOT2"><circle class="dn" cx="998" cy="743" r="35.5"/><text x="998" y="743">GOT2</text></g>
<g id="n-ALDH5A1"><circle class="dn" cx="1117" cy="757" r="35.5"/><text x="1117" y="757">ALDH5A1</text></g>
<g id="n-ETFA"><circle class="dn" cx="1215" cy="753" r="35.5"/><text x="1215" y="753">ETFA</text></g>
<g id="n-ALDH4A1"><circle class="dn" cx="1320" cy="773" r="35.5"/><text x="1320" y="773">ALDH4A1</text></g>
<g id="n-ACADSB"><circle class="dn" cx="1723" cy="790" r="35.5"/><text x="1723" y="790">ACADSB</text></g>
<g id="n-ACAT1"><circle class="dn" cx="1418" cy="804" r="35.5"/><text x="1418" y="804">ACAT1</text></g>
<g id="n-ECHS1"><circle class="dn" cx="1607" cy="817" r="35.5"/><text x="1607" y="817">ECHS1</text></g>
<g id="n-ACLY"><circle class="up" cx="1148" cy="818" r="35.5"/><text x="1148" y="818">ACLY</text></g>
<g id="n-FAHD1"><circle class="dn" cx="995" cy="823" r="35.5"/><text x="995" y="823">FAHD1</text></g>
<g id="n-ACADM"><circle class="dn" cx="1487" cy="837" r="35.5"/><text x="1487" y="837">ACADM</text></g>
<g id="n-BDH2"><circle class="dn" cx="1722" cy="843" r="35.5"/><text x="1722" y="843">BDH2</text></g>
<g id="n-DPYD"><circle class="up" cx="1088" cy="848" r="35.5"/><text x="1088" y="848">DPYD</text></g>
<g id="n-ECI2"><circle class="dn" cx="1265" cy="848" r="35.5"/><text x="1265" y="848">ECI2</text></g>
<g id="n-ALDH6A1"><circle class="dn" cx="1347" cy="865" r="35.5"/><text x="1347" y="865">ALDH6A1</text></g>
<g id="n-GOT1"><circle class="dn" cx="1023" cy="893" r="35.5"/><text x="1023" y="893">GOT1</text></g>
<g id="n-HMGCL"><circle class="dn" cx="1418" cy="900" r="35.5"/><text x="1418" y="900">HMGCL</text></g>
<g id="n-MCCC2"><circle class="dn" cx="1510" cy="900" r="35.5"/><text x="1510" y="900">MCCC2</text></g>
<g id="n-HMGCS2"><circle class="dn" cx="1663" cy="902" r="35.5"/><text x="1663" y="902">HMGCS2</text></g>
<g id="n-ACOX1"><circle class="dn" cx="1583" cy="920" r="35.5"/><text x="1583" y="920">ACOX1</text></g>
<g id="n-PCK1"><circle class="dn" cx="1298" cy="925" r="35.5"/><text x="1298" y="925">PCK1</text></g>
<g id="n-LDHA"><circle class="up" cx="1047" cy="975" r="35.5"/><text x="1047" y="975">LDHA</text></g>
<g id="n-LDHB"><circle class="dn" cx="1198" cy="973" r="35.5"/><text x="1198" y="973">LDHB</text></g>
<g id="n-HIBCH"><circle class="dn" cx="1567" cy="980" r="35.5"/><text x="1567" y="980">HIBCH</text></g>
<g id="n-ACAA2"><circle class="dn" cx="1407" cy="993" r="35.5"/><text x="1407" y="993">ACAA2</text></g>
<g id="n-MUT"><circle class="dn" cx="1495" cy="998" r="35.5"/><text x="1495" y="998">MUT</text></g>
<g id="n-GCDH"><circle class="dn" cx="1327" cy="1020" r="35.5"/><text x="1327" y="1020">GCDH</text></g>
<g id="n-IDH2"><circle class="dn" cx="1225" cy="1038" r="35.5"/><text x="1225" y="1038">IDH2</text></g>
<g id="n-ACO1"><circle class="dn" cx="1027" cy="1062" r="35.5"/><text x="1027" y="1062">ACO1</text></g>
<g id="n-YARS"><circle class="up" cx="1143" cy="1062" r="35.5"/><text x="1143" y="1062">YARS</text></g>
<g id="n-PKM"><circle class="up" cx="1037" cy="1133" r="35.5"/><text x="1037" y="1133">PKM</text></g>
<g id="n-SLC5A12"><circle class="dn" cx="1473" cy="1142" r="35.5"/><text x="1473" y="1142">SLC5A12</text></g>
<g id="n-PKLR"><circle class="dn" cx="1123" cy="1210" r="35.5"/><text x="1123" y="1210">PKLR</text></g>
<g id="n-PFKP"><circle class="up" cx="1287" cy="1228" r="35.5"/><text x="1287" y="1228">PFKP</text></g>
<g id="n-P4HB"><circle class="up" cx="1403" cy="1237" r="35.5"/><text x="1403" y="1237">P4HB</text></g>
<g id="n-ENO2"><circle class="up" cx="1097" cy="1283" r="35.5"/><text x="1097" y="1283">ENO2</text></g>
<g id="n-PDIA4"><circle class="up" cx="1207" cy="1322" r="35.5"/><text x="1207" y="1322">PDIA4</text></g>
</svg>
